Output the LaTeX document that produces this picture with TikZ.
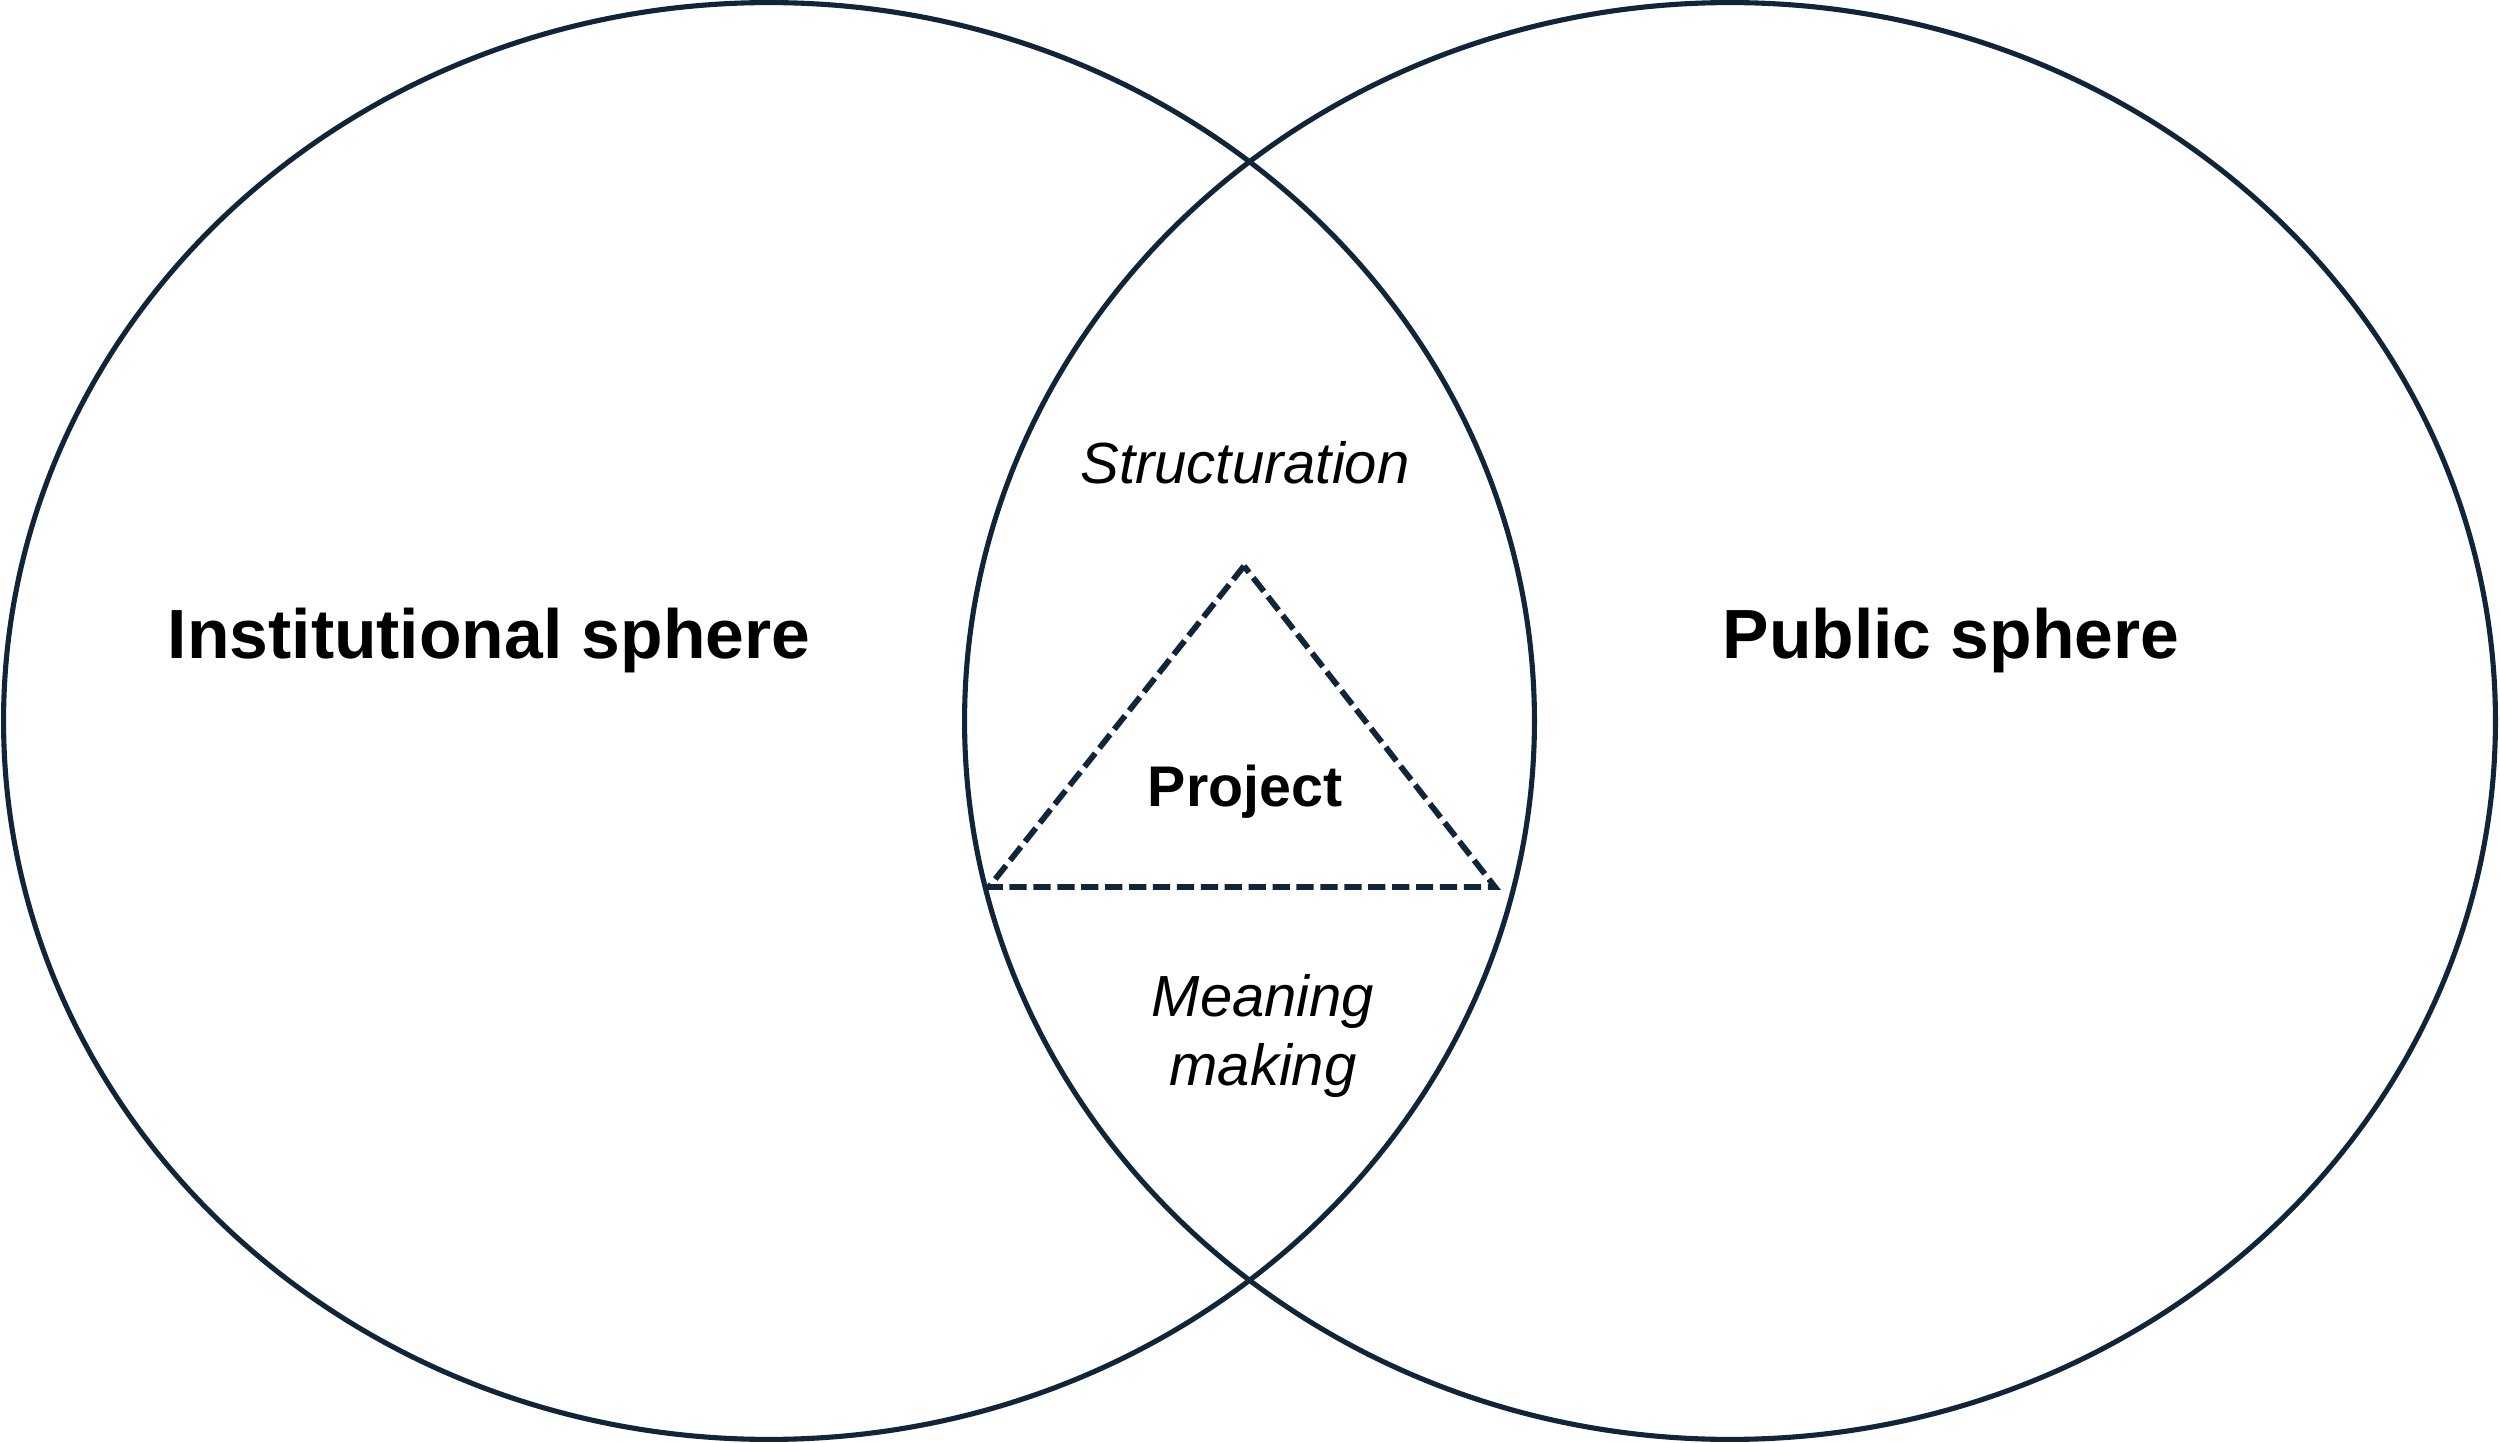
\documentclass[tikz,border=0pt]{standalone}
\usepackage{fontspec}
\setmainfont{Liberation Sans}
\usetikzlibrary{shapes.geometric}
\definecolor{ink}{RGB}{16,38,56}
\begin{document}
\begin{tikzpicture}[x=0.01cm,y=-0.01cm,
  sphere/.style={draw=ink,line width=1.45pt},
  tri/.style={draw=ink,line width=1.65pt,dash pattern=on 4.9pt off 1.9pt,line join=miter},
  biglabel/.style={font=\fontsize{19.8}{23}\selectfont\bfseries,inner sep=0pt,anchor=base},
  midlabel/.style={font=\fontsize{16.3}{19.6}\selectfont\bfseries,inner sep=0pt,anchor=base},
  itlabel/.style={font=\fontsize{16.5}{19.8}\selectfont\itshape,inner sep=0pt,align=center}]
\useasboundingbox[fill=white] (0,0) rectangle (2500,1443);
\draw[sphere] (769,721) ellipse [x radius=7.65cm, y radius=7.18cm];
\draw[sphere] (1730,721) ellipse [x radius=7.65cm, y radius=7.18cm];
\coordinate (apex) at (1244,566);
\coordinate (bl) at (989,887);
\coordinate (br) at (1495,887);
\draw[tri] (apex) -- (bl) -- (br) -- cycle;
\node[biglabel] (inst) at (489,659) {Institutional sphere};
\node[biglabel] (pub) at (1951,659) {Public sphere};
\node[itlabel,anchor=base] (struct) at (1245,484) {Structuration};
\node[midlabel] (proj) at (1245,807) {Project};
\node[itlabel] (mean) at (1263,1036) {Meaning\\making};
\end{tikzpicture}
\end{document}
